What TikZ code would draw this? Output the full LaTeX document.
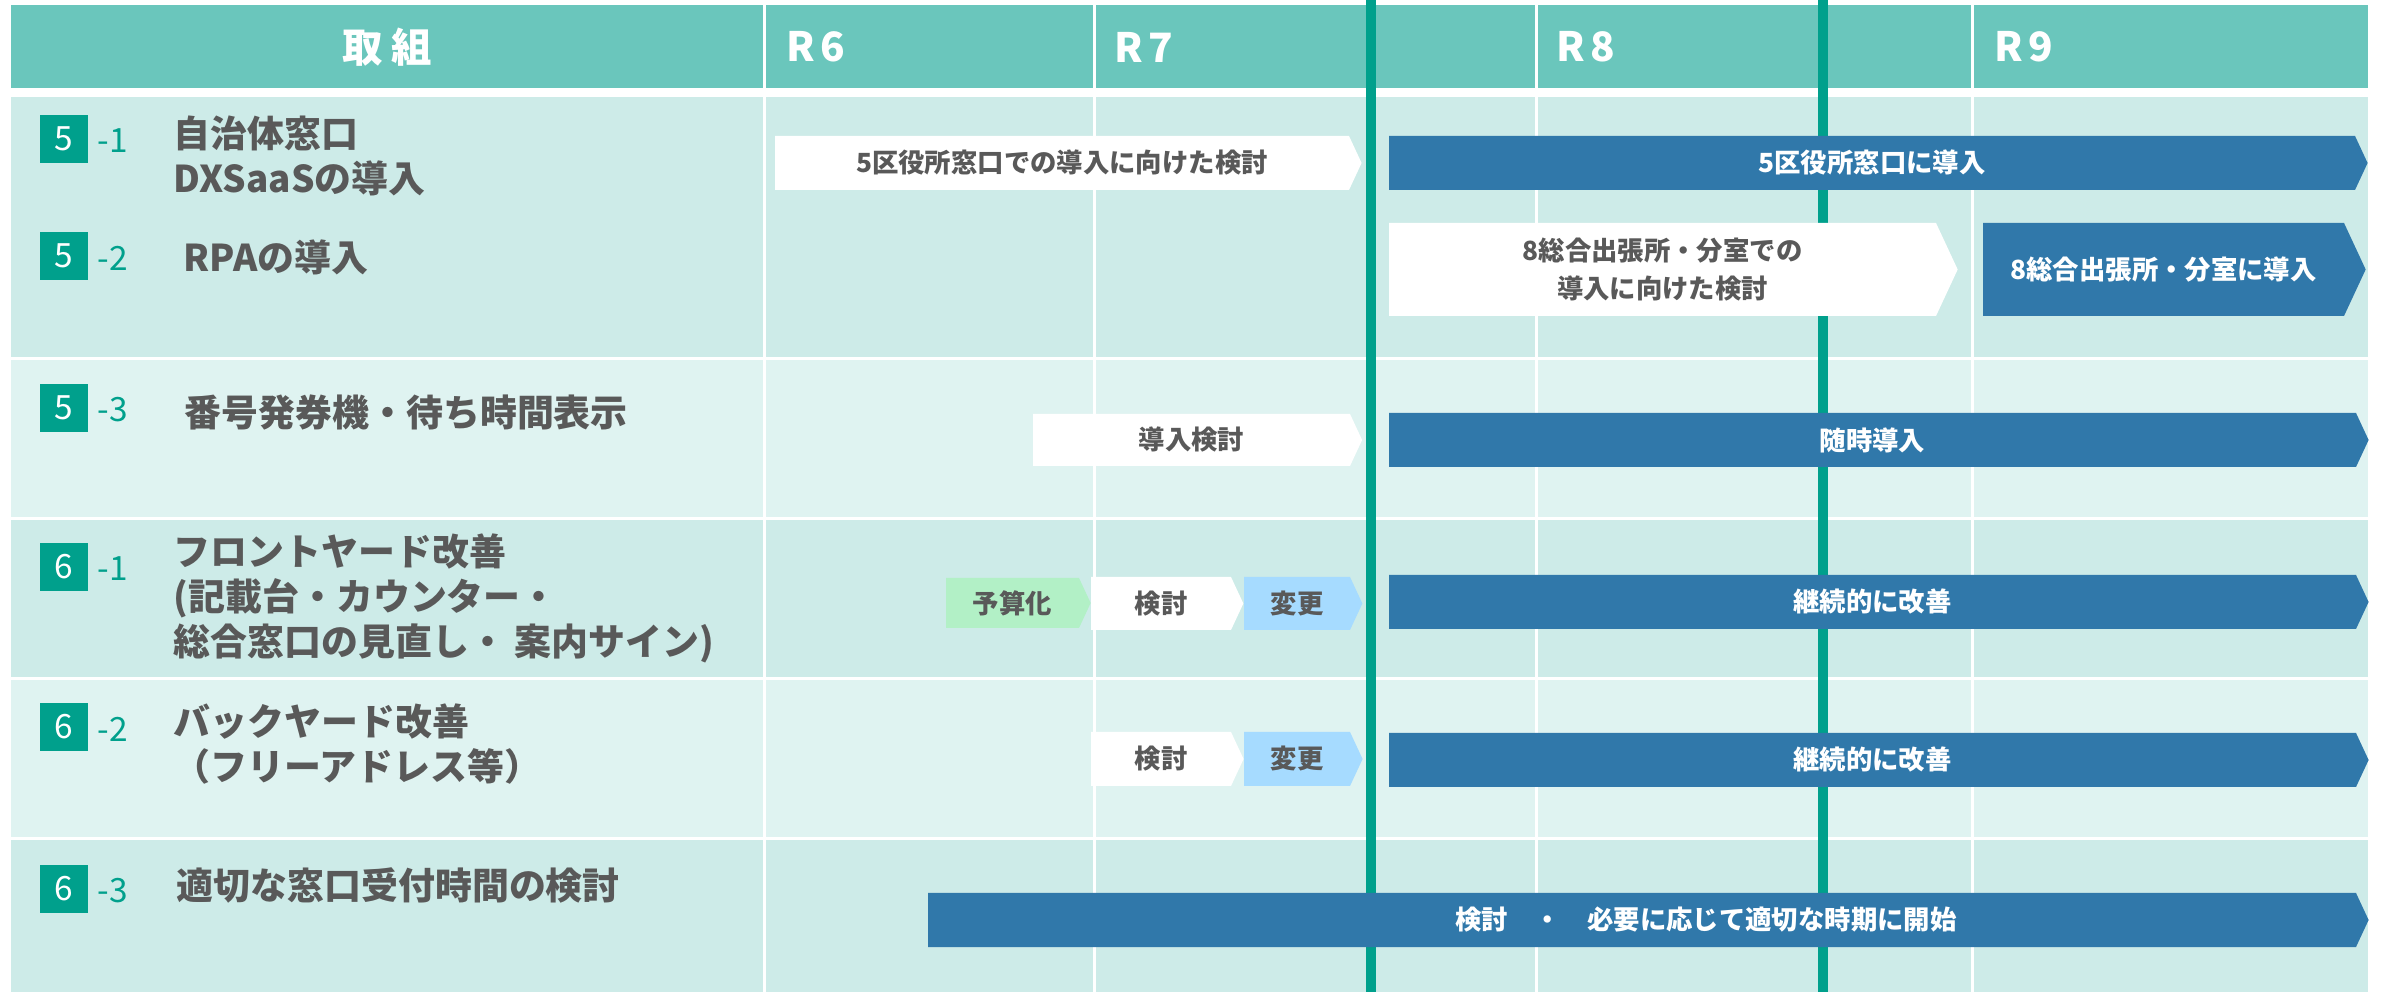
\documentclass[tikz,border=0pt]{standalone}
\usepackage{fontspec}
\setmainfont{Noto Sans CJK JP}
\usepackage{tikz}
\usetikzlibrary{positioning}

\definecolor{cabecera}{RGB}{106,198,188}
\definecolor{filaA}{RGB}{205,235,232}
\definecolor{filaB}{RGB}{223,243,241}
\definecolor{verde}{RGB}{0,160,140}
\definecolor{azul}{RGB}{48,120,170}
\definecolor{gris}{RGB}{89,89,89}
\definecolor{verdeclaro}{RGB}{178,240,198}
\definecolor{azulclaro}{RGB}{166,219,255}

% barra con punta: nombre, x1, x2, y1, y2, relleno, estilo del texto, texto
\newcommand{\fase}[8]{%
  \fill[#6] (#2,#4) -- (#3,#4) -- ({#3+0.233*(#5-#4)},{(#4+#5)/2}) -- (#3,#5) -- (#2,#5) -- cycle;
  \node[#7] (#1) at ({(#2+#3)/2},{(#4+#5)/2}) {#8};}

\begin{document}
\begin{tikzpicture}[x=0.01cm, y=-0.01cm,
    titulo/.style={anchor=west, align=left, inner sep=0pt, text=gris, font=\fontsize{10.5}{12.8}\selectfont\bfseries},
    badge/.style={fill=verde, text=white, minimum size=0.48cm, inner sep=0pt, font=\fontsize{9.5}{9.5}\selectfont},
    subnum/.style={text=verde, inner sep=0pt, font=\fontsize{9.5}{9.5}\selectfont},
    cab/.style={text=white, inner sep=0pt, font=\fontsize{11.5}{11.5}\selectfont\bfseries},
    etiqueta/.style={inner sep=0pt, align=center, text=gris, font=\fontsize{7.5}{10.8}\selectfont\bfseries},
    etiquetablanca/.style={etiqueta, text=white}]
  \useasboundingbox (0,0) rectangle (2382,992);
  \fill[white] (0,0) rectangle (2382,992);

  % Fondo
  \fill[cabecera] (11,5) rectangle (2368,88);
  \fill[filaA] (11,97) rectangle (2368,357.5);
  \fill[filaB] (11,360.5) rectangle (2368,517);
  \fill[filaA] (11,520) rectangle (2368,677.5);
  \fill[filaB] (11,680.5) rectangle (2368,837);
  \fill[filaA] (11,840) rectangle (2368,992);
  \foreach \x in {764,1094,1536,1972}
    \draw[white, line width=0.03cm] (\x,5) -- (\x,992);
  \foreach \x in {1371,1823}
    \draw[verde, line width=0.1cm] (\x,0) -- (\x,992);

  % Cabecera
  \node[cab] (hdr) at (387,47) {取\hspace{0.2em}組};
  \node[cab, anchor=west] (r6) at (786,47) {R\hspace{0.12em}6};
  \node[cab, anchor=west] (r7) at (1114,47) {R\hspace{0.12em}7};
  \node[cab, anchor=west] (r8) at (1556,47) {R\hspace{0.12em}8};
  \node[cab, anchor=west] (r9) at (1994,47) {R\hspace{0.12em}9};

  % Nodos
  \node[badge] (b51) at (64,139) {5};
  \node[subnum, right=0.08cm of b51, yshift=-0.02cm] (s51) {-1};
  \node[titulo] (t51) at (173,155.5) {自治体窓口\\DXSaaSの導入};
  \node[badge] (b52) at (64,256) {5};
  \node[subnum, right=0.08cm of b52, yshift=-0.02cm] (s52) {-2};
  \node[titulo] (t52) at (183,257) {RPAの導入};
  \node[badge] (b53) at (64,408) {5};
  \node[subnum, right=0.08cm of b53, yshift=-0.02cm] (s53) {-3};
  \node[titulo] (t53) at (184,412) {番号発券機・待ち時間表示};
  \node[badge] (b61) at (64,567) {6};
  \node[subnum, right=0.08cm of b61, yshift=-0.02cm] (s61) {-1};
  \node[titulo] (t61) at (173,598) {フロントヤード改善\\(記載台・カウンター・\\総合窓口の見直し・ 案内サイン)};
  \node[badge] (b62) at (64,727) {6};
  \node[subnum, right=0.08cm of b62, yshift=-0.02cm] (s62) {-2};
  \node[titulo] (t62) at (173,744) {バックヤード改善\\（フリーアドレス等）};
  \node[badge] (b63) at (64,889) {6};
  \node[subnum, right=0.08cm of b63, yshift=-0.02cm] (s63) {-3};
  \node[titulo] (t63) at (176,885) {適切な窓口受付時間の検討};

  % Barras
  \fase{f51a}{775}{1349}{136}{190}{white}{etiqueta}{5区役所窓口での導入に向けた検討}
  \fase{f51b}{1389}{2355}{136}{190}{azul}{etiquetablanca}{5区役所窓口に導入}
  \fase{f52a}{1389}{1936}{223}{316}{white}{etiqueta}{8総合出張所・分室での\\導入に向けた検討}
  \fase{f52b}{1983}{2344}{223}{316}{azul}{etiquetablanca}{8総合出張所・分室に導入}
  \fase{f53a}{1033}{1350}{414}{466}{white}{etiqueta}{導入検討}
  \fase{f53b}{1389}{2356}{413}{467}{azul}{etiquetablanca}{随時導入}
  \fase{f61a}{946}{1079}{578}{628}{verdeclaro}{etiqueta}{予算化}
  \fase{f61b}{1091}{1231}{577}{630}{white}{etiqueta}{検討}
  \fase{f61c}{1244}{1350}{577}{630}{azulclaro}{etiqueta}{変更}
  \fase{f61d}{1389}{2356}{575}{629}{azul}{etiquetablanca}{継続的に改善}
  \fase{f62a}{1091}{1231}{732}{786}{white}{etiqueta}{検討}
  \fase{f62b}{1244}{1350}{732}{786}{azulclaro}{etiqueta}{変更}
  \fase{f62c}{1389}{2356}{733}{787}{azul}{etiquetablanca}{継続的に改善}
  \fase{f63a}{928}{2356}{893}{947}{azul}{etiquetablanca, xshift=0.64cm}{検討　・　必要に応じて適切な時期に開始}
\end{tikzpicture}
\end{document}
